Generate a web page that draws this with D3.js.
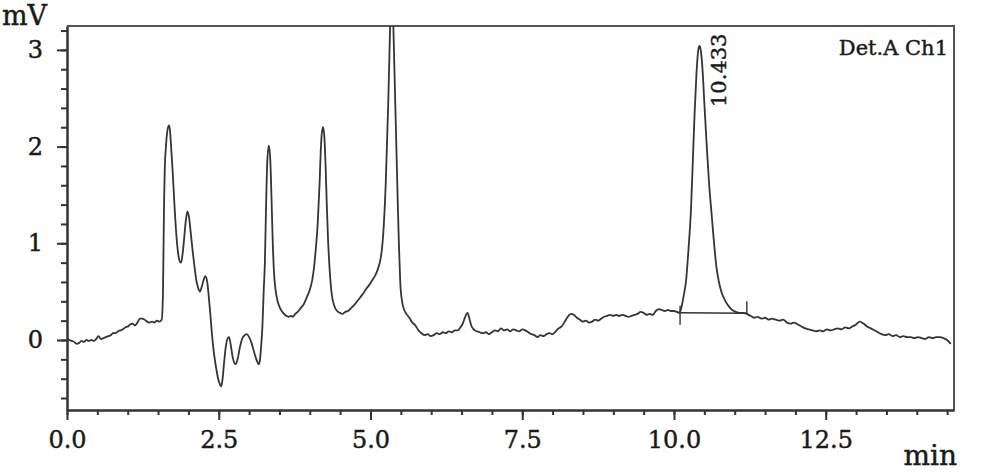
<!DOCTYPE html>
<html>
<head>
<meta charset="utf-8">
<script src="https://cdn.jsdelivr.net/npm/d3@7"></script>
<style>
  html, body { margin: 0; padding: 0; background: #fff; }
  svg { display: block; }
  text { font-family: "DejaVu Serif", "Liberation Serif", serif; fill: #1a1a1a;
         stroke: #1a1a1a; stroke-width: 0.45px; }
</style>
</head>
<body>
<svg id="chart" width="1000" height="473"></svg>
<script>
// ---- data ----
const xMajorTicks = [0, 2.5, 5, 7.5, 10, 12.5];
const yMajorTicks = [0, 1, 2, 3];
const xLabel = "min";
const yLabel = "mV";
const channelLabel = "Det.A Ch1";
const peakLabel = "10.433";
const labelledPeak = [10.42, 3.04];          // apex of the labelled peak (min, mV)
const integrationStart = [10.10, 0.282];     // baseline start (min, mV)
const integrationEnd = [11.20, 0.276];       // baseline end (min, mV)

// time (min), signal (mV)
const trace = [
  [0.00,0.02],[0.04,0.00],[0.08,-0.01],[0.12,-0.02],[0.16,-0.04],[0.20,-0.03],[0.24,-0.01],[0.28,-0.02],
  [0.32,0.00],[0.36,-0.01],[0.40,0.00],[0.44,-0.01],[0.48,0.01],[0.52,0.04],[0.56,0.01],[0.60,0.02],
  [0.64,0.03],[0.68,0.04],[0.72,0.05],[0.76,0.07],[0.80,0.07],[0.84,0.09],[0.88,0.10],[0.92,0.11],
  [0.96,0.13],[1.00,0.14],[1.04,0.16],[1.08,0.17],[1.12,0.15],[1.16,0.18],[1.20,0.22],[1.24,0.22],
  [1.28,0.21],[1.32,0.19],[1.36,0.18],[1.40,0.19],[1.44,0.18],[1.48,0.20],[1.52,0.19],[1.56,0.21],
  [1.58,0.45],[1.59,0.95],[1.60,1.45],[1.61,1.75],[1.63,2.00],[1.65,2.15],[1.67,2.21],[1.685,2.22],
  [1.70,2.14],[1.72,1.95],[1.74,1.75],[1.77,1.40],[1.80,1.10],[1.83,0.90],[1.86,0.81],[1.88,0.80],
  [1.91,0.92],[1.94,1.12],[1.96,1.25],[1.985,1.33],[2.01,1.27],[2.04,1.10],[2.07,0.92],[2.10,0.76],
  [2.13,0.62],[2.16,0.54],[2.19,0.50],[2.22,0.55],[2.25,0.62],[2.28,0.66],[2.31,0.60],[2.34,0.42],
  [2.37,0.20],[2.40,-0.02],[2.43,-0.18],[2.46,-0.30],[2.49,-0.40],[2.52,-0.46],[2.54,-0.48],[2.56,-0.42],
  [2.59,-0.22],[2.62,-0.05],[2.65,0.02],[2.67,0.03],[2.70,-0.06],[2.73,-0.18],[2.76,-0.24],[2.78,-0.25],
  [2.81,-0.20],[2.85,-0.07],[2.89,0.02],[2.93,0.05],[2.96,0.06],[3.00,0.03],[3.04,-0.03],[3.08,-0.12],
  [3.12,-0.20],[3.16,-0.25],[3.18,-0.20],[3.20,-0.05],[3.22,0.15],[3.24,0.50],[3.26,0.80],[3.28,1.40],
  [3.30,1.85],[3.325,2.01],[3.35,1.85],[3.37,1.45],[3.39,1.00],[3.41,0.70],[3.44,0.50],[3.47,0.40],
  [3.51,0.33],[3.56,0.28],[3.61,0.25],[3.65,0.24],[3.69,0.25],[3.72,0.24],[3.76,0.27],[3.80,0.29],
  [3.85,0.33],[3.90,0.37],[3.95,0.44],[4.00,0.52],[4.04,0.62],[4.07,0.75],[4.10,0.95],[4.13,1.20],
  [4.16,1.60],[4.18,1.95],[4.20,2.15],[4.22,2.20],[4.24,2.10],[4.26,1.80],[4.28,1.40],[4.30,1.05],
  [4.33,0.70],[4.36,0.48],[4.40,0.36],[4.45,0.30],[4.50,0.28],[4.54,0.27],[4.58,0.29],[4.63,0.30],
  [4.68,0.33],[4.73,0.36],[4.78,0.40],[4.83,0.44],[4.88,0.48],[4.93,0.53],[4.98,0.57],[5.03,0.62],
  [5.08,0.67],[5.12,0.73],[5.16,0.82],[5.19,0.95],[5.22,1.20],[5.25,1.60],[5.27,2.00],[5.29,2.40],
  [5.31,2.90],[5.33,3.40],[5.35,3.60],[5.37,3.40],[5.39,2.90],[5.41,2.40],[5.43,1.90],[5.45,1.40],
  [5.47,0.95],[5.49,0.60],[5.52,0.40],[5.55,0.32],[5.59,0.27],[5.64,0.23],[5.69,0.18],[5.74,0.15],
  [5.79,0.10],[5.84,0.07],[5.89,0.05],[5.94,0.06],[5.99,0.04],[6.04,0.05],[6.09,0.07],[6.14,0.06],
  [6.19,0.08],[6.24,0.07],[6.29,0.09],[6.34,0.08],[6.39,0.10],[6.44,0.10],[6.48,0.13],[6.52,0.17],
  [6.56,0.24],[6.60,0.28],[6.63,0.22],[6.66,0.15],[6.70,0.11],[6.75,0.09],[6.80,0.08],[6.85,0.07],
  [6.90,0.08],[6.95,0.06],[7.00,0.08],[7.05,0.10],[7.10,0.09],[7.15,0.12],[7.20,0.10],[7.25,0.11],
  [7.30,0.09],[7.35,0.11],[7.40,0.10],[7.45,0.09],[7.50,0.11],[7.55,0.10],[7.60,0.08],[7.65,0.06],
  [7.70,0.05],[7.75,0.03],[7.80,0.05],[7.85,0.04],[7.90,0.06],[7.95,0.07],[8.00,0.06],[8.05,0.09],
  [8.10,0.12],[8.15,0.14],[8.20,0.19],[8.25,0.24],[8.30,0.27],[8.35,0.26],[8.40,0.23],[8.45,0.21],
  [8.50,0.19],[8.55,0.20],[8.60,0.18],[8.65,0.19],[8.70,0.21],[8.75,0.20],[8.80,0.22],[8.85,0.24],
  [8.90,0.25],[8.95,0.26],[9.00,0.25],[9.05,0.26],[9.10,0.25],[9.15,0.26],[9.20,0.25],[9.25,0.24],
  [9.30,0.25],[9.35,0.26],[9.40,0.27],[9.45,0.29],[9.50,0.28],[9.55,0.26],[9.60,0.27],[9.65,0.26],
  [9.70,0.30],[9.75,0.32],[9.80,0.31],[9.85,0.30],[9.90,0.31],[9.95,0.30],[10.00,0.30],[10.05,0.29],
  [10.09,0.28],[10.12,0.33],[10.16,0.46],[10.20,0.62],[10.24,0.95],[10.28,1.35],[10.31,1.85],[10.34,2.35],
  [10.37,2.75],[10.40,3.00],[10.42,3.04],[10.44,3.00],[10.47,2.80],[10.50,2.45],[10.54,2.00],[10.58,1.60],
  [10.62,1.30],[10.66,1.00],[10.70,0.75],[10.74,0.60],[10.79,0.48],[10.85,0.40],[10.90,0.35],[10.96,0.31],
  [11.02,0.29],[11.08,0.28],[11.14,0.28],[11.20,0.27],[11.26,0.25],[11.32,0.23],[11.38,0.24],[11.44,0.22],
  [11.50,0.23],[11.56,0.21],[11.62,0.22],[11.68,0.21],[11.74,0.20],[11.80,0.21],[11.86,0.18],[11.92,0.17],
  [11.98,0.18],[12.04,0.16],[12.10,0.14],[12.16,0.12],[12.22,0.11],[12.28,0.10],[12.34,0.09],[12.40,0.10],
  [12.46,0.09],[12.52,0.11],[12.58,0.10],[12.64,0.11],[12.70,0.12],[12.76,0.11],[12.82,0.13],[12.88,0.12],
  [12.94,0.14],[13.00,0.16],[13.06,0.19],[13.12,0.17],[13.18,0.14],[13.24,0.12],[13.30,0.10],[13.36,0.08],
  [13.42,0.06],[13.48,0.05],[13.54,0.06],[13.60,0.04],[13.66,0.05],[13.72,0.03],[13.78,0.04],[13.84,0.03],
  [13.90,0.03],[13.96,0.02],[14.02,0.03],[14.08,0.02],[14.14,0.01],[14.20,0.03],[14.26,0.02],[14.32,0.03],
  [14.38,0.03],[14.44,0.02],[14.50,0.00],[14.56,-0.04]
];

// ---- layout ----
const svg = d3.select("#chart");
const L = 67, R = 954, T = 26, B = 410;
const x = d3.scaleLinear().domain([0, 14.613]).range([L, R]);
const y = d3.scaleLinear().domain([-0.724, 3.247]).range([B, T]);

const xMinor = d3.range(0, 14.6, 0.5);
const yMinor = d3.range(-0.6, 3.25, 0.2);

svg.append("defs").append("clipPath").attr("id", "plotclip")
  .append("rect").attr("x", L).attr("y", T).attr("width", R - L).attr("height", B - T);

// frame (top/right)
svg.append("path")
  .attr("d", `M${L},${T}H${R}V${B}`)
  .attr("fill", "none").attr("stroke", "#555").attr("stroke-width", 2);

// x axis
const gxMinor = svg.append("g").attr("transform", `translate(0,${B})`)
  .call(d3.axisBottom(x).tickValues(xMinor).tickSize(5).tickSizeOuter(0).tickFormat(""));
const gx = svg.append("g").attr("transform", `translate(0,${B})`)
  .call(d3.axisBottom(x).tickValues(xMajorTicks).tickSize(10).tickSizeOuter(0).tickPadding(11)
        .tickFormat(d3.format(".1f")));
// y axis
const gyMinor = svg.append("g").attr("transform", `translate(${L},0)`)
  .call(d3.axisLeft(y).tickValues(yMinor).tickSize(6).tickSizeOuter(0).tickFormat(""));
const gy = svg.append("g").attr("transform", `translate(${L},0)`)
  .call(d3.axisLeft(y).tickValues(yMajorTicks).tickSize(10).tickSizeOuter(0).tickPadding(14)
        .tickFormat(d3.format("d")));

[gxMinor, gx, gyMinor, gy].forEach(g => {
  g.select(".domain").attr("stroke", "#333").attr("stroke-width", 2);
  g.selectAll(".tick line").attr("stroke", "#333").attr("stroke-width", 2);
});
[gx, gy].forEach(g => g.selectAll(".tick text")
  .attr("font-size", 24).attr("fill", "#1a1a1a").attr("font-family", "DejaVu Serif"));

// trace
const line = d3.line().x(d => x(d[0])).y(d => y(d[1])).curve(d3.curveMonotoneX);
svg.append("g").attr("clip-path", "url(#plotclip)")
  .append("path").datum(trace)
  .attr("d", line)
  .attr("fill", "none").attr("stroke", "#353535").attr("stroke-width", 1.8)
  .attr("stroke-linejoin", "round");

// integration baseline with start/end markers
const ib = svg.append("g").attr("stroke", "#333").attr("stroke-width", 1.4);
ib.append("line")
  .attr("x1", x(integrationStart[0])).attr("y1", y(integrationStart[1]))
  .attr("x2", x(integrationEnd[0])).attr("y2", y(integrationEnd[1]));
ib.append("line")
  .attr("x1", x(integrationStart[0])).attr("x2", x(integrationStart[0]))
  .attr("y1", y(integrationStart[1]) - 7).attr("y2", y(integrationStart[1]) + 12);
ib.append("line")
  .attr("x1", x(integrationEnd[0])).attr("x2", x(integrationEnd[0]))
  .attr("y1", y(integrationEnd[1]) - 12).attr("y2", y(integrationEnd[1]) + 1);

// peak label (rotated)
const px = x(labelledPeak[0]) + 27, py = y(labelledPeak[1]) + 61;
svg.append("text")
  .attr("transform", `translate(${px},${py}) rotate(-90)`)
  .attr("font-size", 21)
  .text(peakLabel);

// labels
svg.append("text").attr("x", 2).attr("y", 25).attr("font-size", 27).text(yLabel);
svg.append("text").attr("x", 957).attr("y", 465).attr("font-size", 28)
  .attr("text-anchor", "end").text(xLabel);
svg.append("text").attr("x", 948).attr("y", 55).attr("font-size", 21)
  .attr("text-anchor", "end").text(channelLabel);
</script>
</body>
</html>
